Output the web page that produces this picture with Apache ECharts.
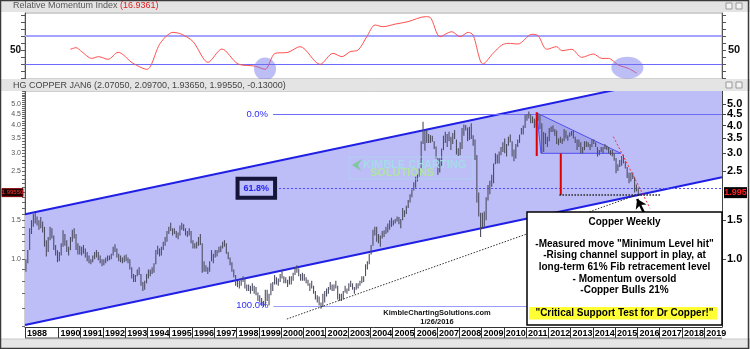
<!DOCTYPE html>
<html><head><meta charset="utf-8">
<script src="https://cdn.jsdelivr.net/npm/echarts@6/dist/echarts.min.js"></script>
<style>html,body{margin:0;padding:0;background:#fff}#c{width:750px;height:349px}</style>
</head><body><div id="c"></div>
<script>
// ---------------- DATA ----------------
const yearTickValues = [1988.5,1990,1991,1992,1993,1994,1995,1996,1997,1998,1999,2000,2001,2002,2003,2004,2005,2006,2007,2008,2009,2010,2011,2012,2013,2014,2015,2016,2017,2018,2019];
const yearTickLabels = ['1988','1990','1991','1992','1993','1994','1995','1996','1997','1998','1999','2000','2001','2002','2003','2004','2005','2006','2007','2008','2009','2010','2011','2012','2013','2014','2015','2016','2017','2018','2019'];
const xMin = 1988.5, xMax = 2019.8;

const priceTickValues = [1.0,1.5,2.5,3.0,3.5,4.0,4.5,5.0];
const priceTopLabel = [5.0];
const priceRightLabels = [1.0,1.5,2.5,3.0,3.5,4.0,4.5];
const priceMinorTicks = [0.5,0.6,0.7,0.8,0.9,1.0,1.1,1.2,1.3,1.4,1.5,1.6,1.7,1.8,1.9,2.0,2.1,2.2,2.3,2.4,2.5,2.6,2.7,2.8,2.9,3.0,3.1,3.2,3.3,3.4,3.5,3.6,3.7,3.8,3.9,4.0,4.1,4.2,4.3,4.4,4.5,4.6,4.7,4.8,4.9,5.0,5.1,5.2,5.3,5.4,5.5,5.6,5.7];
const rmiTickValues = [10,20,30,40,50,60,70,80,90,100];
const rmiLabelValues = [50];

// monthly bars, first bar = Jul 1988, last = Jan 2016
const firstBarYear = 1988.5;
const barHigh = [
 1.00,1.10,1.38,1.50,1.60,1.62,
 1.56,1.50,1.55,1.48,1.40,1.22,1.26,1.40,1.38,1.28,1.16,1.10,
 1.08,1.18,1.35,1.30,1.22,1.14,1.26,1.36,1.38,1.30,1.18,1.15,
 1.14,1.16,1.12,1.08,1.04,1.00,1.04,1.08,1.10,1.08,1.04,1.00,
 1.00,1.02,1.04,1.04,1.06,1.14,1.17,1.12,1.06,1.04,1.02,1.04,
 1.05,1.02,1.00,0.92,0.86,0.85,0.90,0.92,0.86,0.79,0.80,0.86,
 0.90,0.90,0.92,0.96,1.10,1.15,1.12,1.14,1.20,1.26,1.34,1.40,
 1.46,1.38,1.38,1.34,1.32,1.42,1.46,1.44,1.38,1.34,1.38,1.34,
 1.22,1.18,1.20,1.26,1.30,1.18,0.98,0.94,0.92,0.98,1.10,1.06,
 1.10,1.10,1.14,1.15,1.20,1.22,1.18,1.08,1.02,0.97,0.90,0.85,
 0.80,0.80,0.82,0.84,0.82,0.77,0.77,0.76,0.78,0.76,0.75,0.71,
 0.69,0.67,0.65,0.73,0.73,0.70,0.78,0.79,0.85,0.83,0.82,0.86,
 0.90,0.84,0.83,0.81,0.84,0.84,0.87,0.92,0.94,0.91,0.86,0.87,
 0.86,0.83,0.81,0.78,0.80,0.76,0.72,0.69,0.68,0.64,0.70,0.72,
 0.74,0.75,0.79,0.77,0.77,0.80,0.76,0.70,0.70,0.72,0.76,0.74,
 0.78,0.80,0.78,0.75,0.78,0.78,0.80,0.84,0.84,0.95,0.98,1.06,
 1.16,1.36,1.40,1.40,1.30,1.28,1.34,1.35,1.40,1.45,1.50,1.54,
 1.50,1.52,1.56,1.55,1.52,1.70,1.66,1.74,1.85,1.96,2.06,2.22,
 2.35,2.45,2.56,3.40,4.16,3.80,3.82,3.66,3.62,3.60,3.40,3.22,
 2.86,2.85,3.15,3.60,3.75,3.66,3.75,3.56,3.70,3.82,3.46,3.16,
 3.36,3.90,4.04,4.02,3.92,3.95,4.10,3.62,3.46,2.95,2.00,1.62,
 1.62,1.64,1.90,2.16,2.26,2.40,2.70,3.00,2.96,3.06,3.20,3.36,
 3.50,3.30,3.56,3.64,3.40,3.12,3.30,3.46,3.64,3.90,4.00,4.46,
 4.50,4.62,4.50,4.40,4.30,4.25,4.50,4.50,4.10,3.74,3.70,3.56,
 3.90,3.96,4.00,3.86,3.80,3.50,3.56,3.50,3.86,3.80,3.62,3.72,
 3.78,3.80,3.56,3.46,3.46,3.36,3.20,3.40,3.40,3.36,3.30,3.46,
 3.46,3.36,3.20,3.10,3.20,3.20,3.30,3.25,3.20,3.10,3.10,3.00,
 2.86,2.68,2.80,2.92,2.96,2.76,2.60,2.45,2.45,2.46,2.34,2.17,
 2.10
];
const barLow = [
 0.88,0.96,1.10,1.30,1.40,1.45,
 1.42,1.36,1.38,1.32,1.14,1.03,1.08,1.22,1.24,1.10,1.04,0.97,
 0.98,1.04,1.14,1.15,1.08,1.04,1.10,1.20,1.24,1.10,1.05,1.05,
 1.04,1.06,1.02,0.98,0.96,0.95,0.97,1.00,1.02,0.99,0.96,0.93,
 0.94,0.96,0.98,0.99,1.00,1.04,1.08,1.02,0.98,0.97,0.96,0.97,
 0.98,0.96,0.90,0.82,0.79,0.79,0.84,0.85,0.76,0.72,0.73,0.78,
 0.82,0.84,0.86,0.87,0.95,1.05,1.03,1.04,1.10,1.15,1.20,1.30,
 1.34,1.28,1.30,1.25,1.23,1.28,1.36,1.34,1.28,1.26,1.28,1.18,
 1.12,1.12,1.12,1.15,1.16,0.87,0.88,0.88,0.86,0.88,0.98,0.96,
 1.02,1.03,1.07,1.08,1.12,1.14,1.06,1.00,0.94,0.88,0.83,0.76,
 0.75,0.74,0.76,0.79,0.74,0.72,0.72,0.70,0.72,0.70,0.69,0.65,
 0.64,0.62,0.61,0.62,0.65,0.62,0.69,0.72,0.77,0.77,0.76,0.79,
 0.82,0.78,0.78,0.75,0.77,0.77,0.80,0.85,0.87,0.84,0.80,0.80,
 0.80,0.78,0.76,0.72,0.74,0.70,0.66,0.64,0.62,0.60,0.61,0.64,
 0.68,0.70,0.73,0.72,0.72,0.74,0.66,0.65,0.65,0.66,0.71,0.70,
 0.72,0.75,0.73,0.70,0.73,0.74,0.76,0.78,0.79,0.84,0.90,0.95,
 1.05,1.15,1.28,1.20,1.18,1.14,1.24,1.26,1.30,1.32,1.36,1.40,
 1.42,1.45,1.48,1.44,1.38,1.50,1.55,1.60,1.70,1.80,1.90,2.04,
 2.10,2.24,2.36,2.56,3.30,3.08,3.34,3.34,3.34,3.38,3.14,2.84,
 2.40,2.46,2.64,3.10,3.34,3.20,3.40,3.10,3.30,3.48,2.96,2.92,
 2.94,3.14,3.60,3.80,3.40,3.44,3.48,3.24,2.80,1.80,1.56,1.26,
 1.38,1.40,1.50,1.84,1.96,2.12,2.20,2.68,2.70,2.70,2.94,3.04,
 3.00,2.90,3.24,3.36,2.90,2.76,2.84,3.20,3.34,3.64,3.64,3.90,
 4.20,4.30,4.10,4.10,3.90,3.94,4.20,3.86,3.00,3.04,3.30,3.20,
 3.40,3.74,3.74,3.60,3.30,3.26,3.34,3.30,3.40,3.50,3.42,3.56,
 3.60,3.50,3.34,3.10,3.20,3.00,3.00,3.10,3.20,3.20,3.10,3.20,
 3.30,3.20,2.90,2.94,3.04,3.00,3.14,3.10,3.00,2.94,2.90,2.78,
 2.44,2.50,2.60,2.64,2.70,2.56,2.32,2.20,2.24,2.30,2.00,2.02,
 1.94
];
const lastClose = 1.9955;

// Relative Momentum Index
const rmiYears = [1990.53,1990.79,1991.05,1991.50,1991.80,1992.23,1992.68,1993.35,1993.97,1994.57,1995.15,1995.54,1996.05,1996.72,1997.34,1998.07,1998.83,1999.28,1999.73,2000.31,2000.85,2001.75,2002.33,2002.73,2003.10,2003.46,2003.85,2004.22,2004.58,2005.12,2005.70,2006.47,2006.69,2007.14,2007.66,2008.04,2008.40,2008.62,2009.07,2009.52,2009.91,2010.19,2010.64,2011.26,2011.54,2011.93,2012.38,2012.60,2013.05,2013.50,2014.02,2014.40,2014.70,2015.14,2015.59,2015.97];
const rmiValues = [51,53.3,47.6,38,40.5,36.7,46.7,31,22.4,59.5,75.2,72.4,61.9,32.4,51.4,30,27,22.4,45.2,46.7,54.8,29.5,45.2,40.5,47.6,50,69,85.7,83.3,87,90.5,97.6,96.7,69,76.2,69,75.2,71.4,30,45.2,57,59.5,58.6,72.4,70.5,51,54.8,49,51,39.5,44.3,38,38,28.6,23.8,16.9];
const rmiLevels = [70, 30];
const rmiCircleYears = [1999.28, 2015.55];
const rmiCircleValues = [22.9, 24.7];

// channel & annotations (year, price)
const channelYears = [1988.5, 2019.8];
const channelUpper = [1.594, 7.31];
const channelLower = [0.506, 2.342];
const fibLevels = [4.51, 2.087, 0.618];
const fibLabels = ['0.0%', '61.8%', '100.0%'];
const fibStartYears = [1999.64, 1999.73, 1999.66];
const triYears = [2011.49, 2011.67, 2015.26];
const triPrices = [4.554, 2.999, 2.999];
const redLine1Years = [2011.48, 2011.48], redLine1Prices = [4.59, 2.917];
const redLine2Years = [2012.56, 2012.56], redLine2Prices = [2.999, 1.947];
const targetYears = [2012.50, 2017.02], targetPrices = [1.947, 1.947];
const downTrendYears = [2014.92, 2016.57], downTrendPrices = [3.563, 1.696];
const supportYears = [2000.26, 2015.97], supportPrices = [0.5387, 1.947];
const arrowYears = [2016.30, 2015.99], arrowPrices = [1.616, 1.868];

// ---------------- CHART ----------------
const F = '"Liberation Sans", Arial, sans-serif';
const chart = echarts.init(document.getElementById('c'));
const barData = barHigh.map((h, i) => [firstBarYear + (i + 0.5) / 12, barLow[i], h]);
const zip = (a, b) => a.map((v, i) => [v, b[i]]);
function nearestLabel(v) {
  let best = 0;
  yearTickValues.forEach((t, i) => { if (Math.abs(t - v) < Math.abs(yearTickValues[best] - v)) best = i; });
  return yearTickLabels[best];
}

const lineSeries = (name, xs, ys, color, width, type, z) => ({
  name, type: 'line', xAxisIndex: 1, yAxisIndex: 2, data: zip(xs, ys), symbol: 'none', z,
  lineStyle: { color, width, type }, silent: true, animation: false
});

const baseGraphic = [
  { type: 'rect', shape: { x: 0, y: 0, width: 750, height: 12 }, style: { fill: '#e4e4e4' }, z: 50 },
  { type: 'rect', shape: { x: 0, y: 79, width: 750, height: 12 }, style: { fill: '#e4e4e4' }, z: 50 },
  { type: 'text', x: 13, y: 6, z: 51, style: { text: '{a|Relative Momentum Index }{b|(16.9361)}', verticalAlign: 'middle',
      rich: { a: { fill: '#555', font: '9px ' + F }, b: { fill: '#e02020', font: '9px ' + F } } } },
  { type: 'text', x: 13, y: 85.5, z: 51, style: { text: 'HG COPPER JAN6 (2.07050, 2.09700, 1.93650, 1.99550, -0.13000)', fill: '#444', font: '9px ' + F, verticalAlign: 'middle' } },
  { type: 'rect', shape: { x: 726, y: 3, width: 6, height: 6 }, style: { fill: '#f4f4f4', stroke: '#999' }, z: 51 },
  { type: 'rect', shape: { x: 736, y: 3, width: 6, height: 6 }, style: { fill: '#f4f4f4', stroke: '#999' }, z: 51 },
  { type: 'rect', shape: { x: 726, y: 82, width: 6, height: 6 }, style: { fill: '#f4f4f4', stroke: '#999' }, z: 51 },
  { type: 'rect', shape: { x: 736, y: 82, width: 6, height: 6 }, style: { fill: '#f4f4f4', stroke: '#999' }, z: 51 },
  { type: 'rect', shape: { x: 0, y: 339, width: 750, height: 10 }, style: { fill: '#e6e6e6', stroke: '#c8c8c8' }, z: 50 },
  { type: 'line', shape: { x1: 25, y1: 338, x2: 722, y2: 338 }, style: { stroke: '#555', lineWidth: 1 }, z: 50 },
  { type: 'rect', shape: { x: 0.5, y: 0.5, width: 748, height: 348 }, style: { fill: null, stroke: '#3a3a3a', lineWidth: 1.5 }, z: 60 },
  { type: 'rect', shape: { x: 349, y: 157, width: 124, height: 22 }, style: { fill: null, stroke: 'rgba(170,215,235,0.8)', lineWidth: 1 }, z: 20 },
  { type: 'polygon', shape: { points: [[362, 159], [352, 165], [361, 171], [358, 165]] }, style: { fill: 'rgba(120,200,150,0.9)' }, z: 20 },
  { type: 'text', x: 363, y: 165, z: 20, style: { text: 'KIMBLE CHARTING', fill: 'rgba(165,220,232,0.95)', font: 'bold 11px ' + F, verticalAlign: 'middle' } },
  { type: 'text', x: 370, y: 173, z: 20, style: { text: 'SOLUTIONS', fill: 'rgba(175,230,160,0.95)', font: 'bold 11px ' + F, verticalAlign: 'middle' } },
  { type: 'text', x: 437, y: 313, z: 20, style: { text: 'KimbleChartingSolutions.com', fill: '#111', font: 'bold 7.5px ' + F, align: 'center', verticalAlign: 'middle' } },
  { type: 'text', x: 437, y: 321.5, z: 20, style: { text: '1/26/2016', fill: '#111', font: 'bold 7.5px ' + F, align: 'center', verticalAlign: 'middle' } },
  { type: 'rect', shape: { x: 527, y: 212, width: 195, height: 113 }, style: { fill: '#ffffff', stroke: '#000', lineWidth: 1.5 }, z: 30 },
  { type: 'rect', shape: { x: 529, y: 307, width: 188, height: 12.5 }, style: { fill: '#ffff33' }, z: 31 }
];
const boxLines = [
  ['Copper Weekly', 222.7],
  ['-Measured move "Minimum Level hit"', 244.3],
  ['-Rising channel support in play, at', 255.5],
  ['long-term 61% Fib retracement level', 267.5],
  ['- Momentum oversold', 279.5],
  ['-Copper Bulls 21%', 290.7],
  ['"Critical Support Test for Dr Copper!"', 313.3]
];
boxLines.forEach(l => baseGraphic.push({ type: 'text', x: 624.5, y: l[1], z: 32,
  style: { text: l[0], fill: '#000', font: 'bold 10px ' + F, align: 'center', verticalAlign: 'middle' } }));

const rightPriceLabel = { formatter: v => v.toFixed(1), margin: 5, fontSize: 11, fontWeight: 'bold', color: '#000', fontFamily: F,
  showMinLabel: true, showMaxLabel: true, hideOverlap: false };

const option = {
  animation: false,
  backgroundColor: '#ffffff',
  textStyle: { fontFamily: F },
  grid: [
    { left: 25, right: 28, top: 13, height: 66, show: true, borderColor: '#a0a0a0', borderWidth: 1, backgroundColor: '#fff' },
    { left: 25, right: 28, top: 91, height: 236, show: true, borderColor: '#a0a0a0', borderWidth: 1, backgroundColor: '#fff' }
  ],
  xAxis: [
    { type: 'value', gridIndex: 0, min: xMin, max: xMax, show: false },
    { type: 'value', gridIndex: 1, min: xMin, max: xMax,
      axisLine: { show: true, lineStyle: { color: '#333', width: 1 } },
      axisTick: { show: true, customValues: yearTickValues, length: 11, lineStyle: { color: '#333' } },
      axisLabel: { customValues: yearTickValues, formatter: nearestLabel, align: 'left', padding: [0, 0, 0, 2], margin: 2,
        fontSize: 9, fontWeight: 'bold', color: '#000', fontFamily: F, showMinLabel: true, showMaxLabel: true, hideOverlap: false },
      splitLine: { show: false } }
  ],
  yAxis: [
    { type: 'value', gridIndex: 0, position: 'left', min: 8.57, max: 102.86,
      axisLine: { show: true, lineStyle: { color: '#555' } },
      axisTick: { show: true, customValues: rmiTickValues, length: 4, lineStyle: { color: '#555' } },
      axisLabel: { customValues: rmiLabelValues, margin: 4, fontSize: 10, fontWeight: 'bold', color: '#111', fontFamily: F },
      splitLine: { show: false } },
    { type: 'value', gridIndex: 0, position: 'right', min: 8.57, max: 102.86,
      axisLine: { show: true, lineStyle: { color: '#555' } },
      axisTick: { show: true, customValues: rmiTickValues, length: 4, lineStyle: { color: '#555' } },
      axisLabel: { customValues: rmiLabelValues, margin: 6, fontSize: 11, fontWeight: 'bold', color: '#111', fontFamily: F },
      splitLine: { show: false } },
    { type: 'log', logBase: 10, gridIndex: 1, position: 'left', min: 0.496, max: 5.72,
      axisLine: { show: true, lineStyle: { color: '#555' } },
      axisTick: { show: true, customValues: priceMinorTicks, length: 3, lineStyle: { color: '#666' } },
      axisLabel: { customValues: priceTickValues, formatter: v => v.toFixed(1), margin: 4, fontSize: 7, lineHeight: 7, color: '#555', fontFamily: F,
        showMinLabel: true, showMaxLabel: true, hideOverlap: false },
      splitLine: { show: false } },
    { type: 'log', logBase: 10, gridIndex: 1, position: 'right', min: 0.496, max: 5.72,
      axisLine: { show: true, lineStyle: { color: '#444' } },
      axisTick: { show: true, customValues: priceTickValues, length: 4, lineStyle: { color: '#444' } },
      axisLabel: Object.assign({ customValues: priceRightLabels }, rightPriceLabel),
      splitLine: { show: false } },
    { type: 'log', logBase: 10, gridIndex: 1, position: 'right', offset: 0, min: 0.496, max: 5.72,
      axisLine: { show: false }, axisTick: { show: false },
      axisLabel: Object.assign({ customValues: priceTopLabel }, rightPriceLabel),
      splitLine: { show: false } }
  ],
  series: [
    { type: 'line', xAxisIndex: 0, yAxisIndex: 0, data: zip(rmiYears, rmiValues), symbol: 'none', smooth: 0.3, z: 3,
      lineStyle: { color: '#ff5050', width: 1 },
      markLine: { silent: true, symbol: ['none', 'none'], label: { show: false }, z: 2,
        data: [ { yAxis: rmiLevels[0], lineStyle: { color: '#a4a4ff', width: 2, type: 'solid' } },
                { yAxis: rmiLevels[1], lineStyle: { color: '#6b6bff', width: 1.2, type: 'solid' } } ] } },
    { type: 'custom', xAxisIndex: 0, yAxisIndex: 0, z: 4, data: zip(rmiCircleYears, rmiCircleValues),
      renderItem: (params, api) => {
        const c = api.coord([api.value(0), api.value(1)]);
        const r = params.dataIndex === 0 ? [11, 11.5] : [16, 11];
        return { type: 'circle', x: c[0], y: c[1], scaleX: r[0] / r[1], shape: { cx: 0, cy: 0, r: r[1] },
          style: { fill: 'rgba(110,110,235,0.45)' } };
      } },
    { type: 'line', xAxisIndex: 1, yAxisIndex: 2, data: zip(channelYears, channelUpper), symbol: 'none', z: 1,
      lineStyle: { color: '#1f1fe6', width: 2 }, areaStyle: { color: '#bdbdf8', opacity: 1, origin: 'start' } },
    { type: 'line', xAxisIndex: 1, yAxisIndex: 2, data: zip(channelYears, channelLower), symbol: 'none', z: 2,
      lineStyle: { color: '#1f1fe6', width: 2 }, areaStyle: { color: '#ffffff', opacity: 1, origin: 'start' },
      markLine: { silent: true, symbol: ['none', 'none'], z: 3,
        data: [
          [ { coord: [fibStartYears[0], fibLevels[0]], lineStyle: { color: '#6c6cf6', width: 1, type: 'solid' },
              label: { show: true, position: 'start', formatter: fibLabels[0], color: '#2d2dff', fontSize: 9.5, distance: 5 } },
            { coord: [xMax, fibLevels[0]] } ],
          [ { coord: [fibStartYears[1], fibLevels[1]], lineStyle: { color: '#4a4aff', width: 1, type: [2, 2] },
              label: { show: true, position: 'start', formatter: fibLabels[1], color: '#2424ee', fontSize: 9, fontWeight: 'bold', distance: 0,
                borderColor: '#15153a', borderWidth: 2, padding: [5, 6, 5, 6], backgroundColor: 'transparent' } },
            { coord: [xMax, fibLevels[1]] } ],
          [ { coord: [fibStartYears[2], fibLevels[2]], lineStyle: { color: '#9c9cff', width: 1, type: 'solid' },
              label: { show: true, position: 'start', formatter: fibLabels[2], color: '#2d2dff', fontSize: 9.5, distance: 5 } },
            { coord: [xMax, fibLevels[2]] } ]
        ] } },
    { type: 'custom', xAxisIndex: 1, yAxisIndex: 2, z: 3, data: [0],
      renderItem: (params, api) => ({ type: 'polygon',
        shape: { points: triYears.map((x, i) => api.coord([x, triPrices[i]])) },
        style: { fill: 'rgba(120,120,210,0.35)', stroke: '#4f4ff0', lineWidth: 1 } }) },
    { type: 'custom', xAxisIndex: 1, yAxisIndex: 2, z: 4, data: barData, encode: { x: 0, y: [1, 2] },
      renderItem: (params, api) => {
        const a = api.coord([api.value(0), api.value(1)]);
        const b = api.coord([api.value(0), api.value(2)]);
        return { type: 'line', shape: { x1: a[0], y1: a[1], x2: b[0], y2: b[1] }, style: { stroke: '#4e4e62', lineWidth: 1.1 } };
      } },
    lineSeries('red1', redLine1Years, redLine1Prices, '#e00000', 2, 'solid', 6),
    lineSeries('red2', redLine2Years, redLine2Prices, '#e00000', 2, 'solid', 6),
    lineSeries('target', targetYears, targetPrices, '#222', 1.4, [1.5, 1.5], 6),
    lineSeries('downtrend', downTrendYears, downTrendPrices, '#ff3030', 1, [2, 2], 6),
    Object.assign(lineSeries('support', supportYears, supportPrices, '#333', 1, [1.5, 1.5], 6), {
      markLine: { silent: true, symbol: ['none', 'arrow'], symbolSize: 9, label: { show: false }, z: 7,
        data: [[ { coord: [arrowYears[0], arrowPrices[0]], lineStyle: { color: '#000', width: 2.5, type: 'solid' } },
                 { coord: [arrowYears[1], arrowPrices[1]] } ]] } })
  ],
  graphic: baseGraphic
};
chart.setOption(option);

const tagY = chart.convertToPixel({ yAxisIndex: 3 }, lastClose);
option.graphic = baseGraphic.concat([
  { type: 'rect', shape: { x: 724, y: tagY - 5.5, width: 23, height: 11 }, style: { fill: '#000' }, z: 40 },
  { type: 'text', x: 735.5, y: tagY, z: 41, style: { text: '1.995', fill: '#ff2020', font: 'bold 9px ' + F, align: 'center', verticalAlign: 'middle' } },
  { type: 'rect', shape: { x: 2, y: tagY - 4, width: 21, height: 8 }, style: { fill: '#1a0000', stroke: '#800' }, z: 40 },
  { type: 'text', x: 12.5, y: tagY, z: 41, style: { text: '1.99550', fill: '#ff3030', font: '6px ' + F, align: 'center', verticalAlign: 'middle' } }
]);
chart.setOption(option, true);
</script>
</body></html>
